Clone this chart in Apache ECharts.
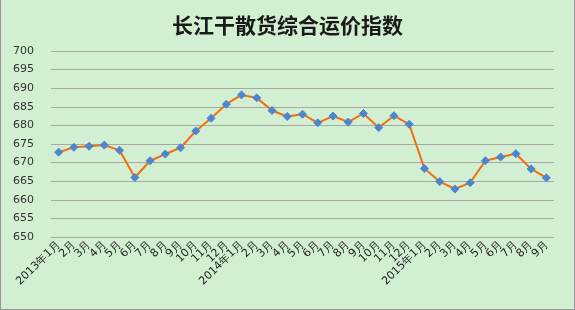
<!DOCTYPE html>
<html><head><meta charset="utf-8">
<script src="https://cdn.jsdelivr.net/npm/echarts@6/dist/echarts.min.js"></script>
<style>html,body{margin:0;padding:0;background:#d2efd2;}#c{width:575px;height:310px;box-sizing:border-box;border-left:1px solid #999;border-right:1px solid #999;border-bottom:1px solid #999;}</style>
</head><body><div id="c"></div>
<script>
const categories = ['2013年1月','2月','3月','4月','5月','6月','7月','8月','9月','10月','11月','12月',
  '2014年1月','2月','3月','4月','5月','6月','7月','8月','9月','10月','11月','12月',
  '2015年1月','2月','3月','4月','5月','6月','7月','8月','9月'];
const values = [672.8,674.1,674.4,674.7,673.3,666.0,670.5,672.3,674.0,678.5,681.9,685.7,
  688.2,687.4,684.0,682.4,683.0,680.7,682.5,680.9,683.2,679.4,682.6,680.3,
  668.4,664.9,662.9,664.6,670.5,671.5,672.4,668.3,665.9];
const yMin = 650, yMax = 700, yStep = 5;
const titleText = '长江干散货综合运价指数';

const chart = echarts.init(document.getElementById('c'), null, {renderer:'canvas'});
chart.setOption({
  backgroundColor: '#d2efd2',
  animation: false,
  title: {text: titleText, left: 'center', top: 10,
    textStyle: {fontFamily: 'Noto Sans CJK SC', fontSize: 21, fontWeight: 'bold', color: '#1a1a1a'}},
  grid: {left: 50, right: 20, top: 51, bottom: 72},
  xAxis: {type: 'category', data: categories, boundaryGap: true,
    axisLine: {show: false}, axisTick: {show: false},
    axisLabel: {interval: 0, rotate: 45, fontSize: 11, color: '#222', margin: 6,
      fontFamily: 'DejaVu Sans'}},
  yAxis: {type: 'value', min: yMin, max: yMax, interval: yStep,
    axisLine: {show: false}, axisTick: {show: false},
    axisLabel: {fontSize: 11, color: '#333', margin: 17, fontFamily: 'DejaVu Sans'},
    splitLine: {lineStyle: {color: '#a8a8a8', width: 1}}},
  series: [{type: 'line', data: values, symbol: 'diamond', symbolSize: 8,
    lineStyle: {color: '#f07010', width: 2},
    itemStyle: {color: '#4a86d2', borderColor: '#4a86d2'}}]
});
</script></body></html>
